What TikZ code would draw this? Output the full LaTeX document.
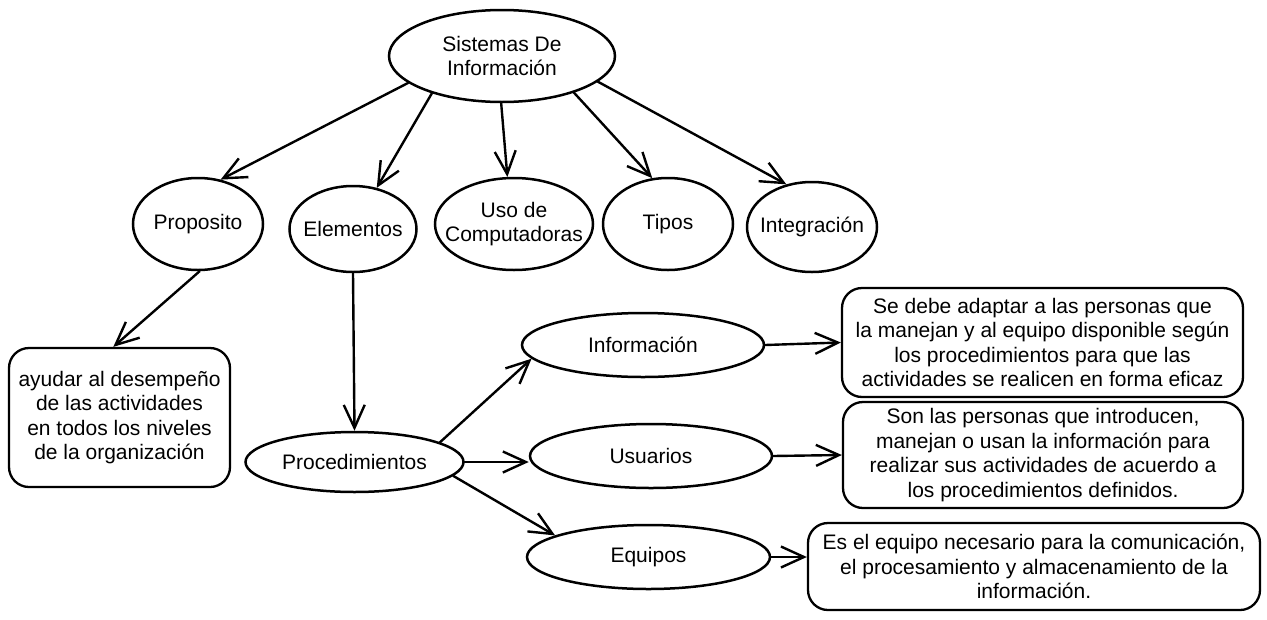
\documentclass[tikz,border=0pt]{standalone}
\usepackage{fontspec}
\setmainfont{Liberation Sans}
\usetikzlibrary{arrows.meta,shapes.geometric}
\begin{document}
\begin{tikzpicture}[x=1pt,y=-1pt,
  every node/.style={font=\fontsize{21}{24.5}\selectfont, text=black},
  ell/.style={draw, ellipse, line width=2.5pt, inner sep=-20pt, align=center},
  txtbox/.style={draw, rectangle, rounded corners=20pt, line width=2.3pt, inner sep=0pt, align=center},
  arr/.style={line width=2.4pt, line cap=round, line join=round, -{Straight Barb[length=23pt,width=21pt]}}]
\fill[white] (0,0) rectangle (1267,619);
\useasboundingbox (0,0) rectangle (1267,619);
\node[ell, minimum width=226pt, minimum height=92pt] (sis) at (502,56) {Sistemas De\\Información};
\node[ell, minimum width=130pt, minimum height=92pt] (prop) at (198,224) {Proposito};
\node[ell, minimum width=127pt, minimum height=86pt] (elem) at (353,229) {Elementos};
\node[ell, minimum width=158pt, minimum height=92pt] (uso) at (514,224) {Uso de\\Computadoras};
\node[ell, minimum width=130pt, minimum height=92pt] (tipos) at (668,224) {Tipos};
\node[ell, minimum width=130pt, minimum height=90pt] (integ) at (812,227) {Integración};
\node[txtbox, minimum width=221pt, minimum height=139pt] (ayu) at (119.5,417.5) {ayudar al desempeño\\de las actividades\\en todos los niveles\\de la organización};
\node[ell, minimum width=218pt, minimum height=60pt] (proc) at (354.5,462) {Procedimientos};
\node[ell, minimum width=242pt, minimum height=64pt] (info) at (643,345) {Información};
\node[ell, minimum width=242pt, minimum height=64pt] (usu) at (651,456) {Usuarios};
\node[ell, minimum width=243pt, minimum height=64pt] (equ) at (648.5,557) {Equipos};
\node[txtbox, minimum width=401pt, minimum height=109pt] (infob) at (1042.5,342.5) {Se debe adaptar a las personas que\\la manejan y al equipo disponible según\\los procedimientos para que las\\actividades se realicen en forma eficaz};
\node[txtbox, minimum width=400pt, minimum height=106pt] (usub) at (1043,455) {Son las personas que introducen,\\manejan o usan la información para\\realizar sus actividades de acuerdo a\\los procedimientos definidos.};
\node[txtbox, minimum width=452pt, minimum height=87pt] (equb) at (1034,566.5) {Es el equipo necesario para la comunicación,\\el procesamiento y almacenamiento de la\\información.};
\draw[arr] (sis.196) -- (prop.63);
\draw[arr] (sis.208) -- (elem.60);
\draw[arr] (sis.-91) -- (uso.98);
\draw[arr] (sis.-27) -- (tipos.109);
\draw[arr] (sis.-15) -- (integ.121);
\draw[arr] (prop.-88) -- (ayu.95);
\draw[arr] (elem.south) -- (proc.north);
\draw[arr] (proc.13) -- (info.187);
\draw[arr] (proc.east) -- (proc.east -| usu.west);
\draw[arr] (proc.-8) -- (equ.167);
\draw[arr] (info.east) -- (infob.west);
\draw[arr] (usu.east) -- (usub.west);
\draw[arr] (equ.east) -- (equ.east -| equb.west);
\end{tikzpicture}
\end{document}
